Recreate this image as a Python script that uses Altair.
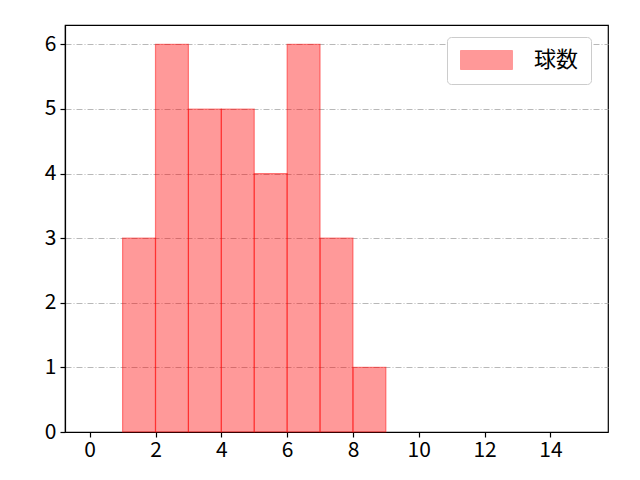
import altair as alt
import pandas as pd

bin_start = [1, 2, 3, 4, 5, 6, 7, 8]
bin_end = [2, 3, 4, 5, 6, 7, 8, 9]
counts = [3, 6, 5, 5, 4, 6, 3, 1]
series = ["球数"] * len(counts)

df = pd.DataFrame({"x": bin_start, "x2": bin_end, "y": counts, "s": series})

FONT = "Noto Sans CJK JP"

bars = alt.Chart(df).mark_rect(
    fillOpacity=0.4, strokeOpacity=0.45, strokeWidth=1.2
).encode(
    x=alt.X("x:Q", scale=alt.Scale(domain=[-0.75, 15.75], nice=False, zero=False),
            axis=alt.Axis(values=[0, 2, 4, 6, 8, 10, 12, 14], title=None, grid=False,
                          labelFontSize=21, labelFont=FONT, labelColor="black",
                          tickColor="black", tickSize=5, domainColor="black",
                          labelPadding=2, labelFlush=False)),
    x2="x2:Q",
    y=alt.Y("y:Q", scale=alt.Scale(domain=[0, 6.3], nice=False),
            axis=alt.Axis(values=[0, 1, 2, 3, 4, 5, 6], title=None, grid=True,
                          gridColor="#b0b0b0", gridDash=[6, 2, 1, 2], gridWidth=0.9,
                          labelFontSize=21, labelFont=FONT, labelColor="black",
                          tickColor="black", tickSize=5, domainColor="black",
                          labelPadding=4, labelFlush=False)),
    y2=alt.datum(0),
    fill=alt.Color("s:N", scale=alt.Scale(range=["red"]),
                   legend=alt.Legend(
                       title=None, orient="none", legendX=382, legendY=12,
                       symbolType="M-1,-1L4.47,-1L4.47,1L-1,1Z",
                       symbolSize=361, symbolFillColor="red", symbolOpacity=0.4,
                       symbolStrokeColor="red", symbolStrokeWidth=1,
                       labelFontSize=22, labelFont=FONT, labelColor="black",
                       labelOffset=53, padding=12, fillColor="white",
                       strokeColor="#cccccc", cornerRadius=4)),
    stroke=alt.value("red"),
)

chart = bars.properties(
    width=543, height=407,
    autosize=alt.AutoSizeParams(type="none"),
    padding={"left": 57, "top": 17, "right": 24, "bottom": 40},
).configure_view(stroke="black", strokeWidth=1.2).configure_axis(domainWidth=1.2, tickWidth=1.2)

chart.save("out.html", embed_options={"renderer": "svg", "actions": False})
